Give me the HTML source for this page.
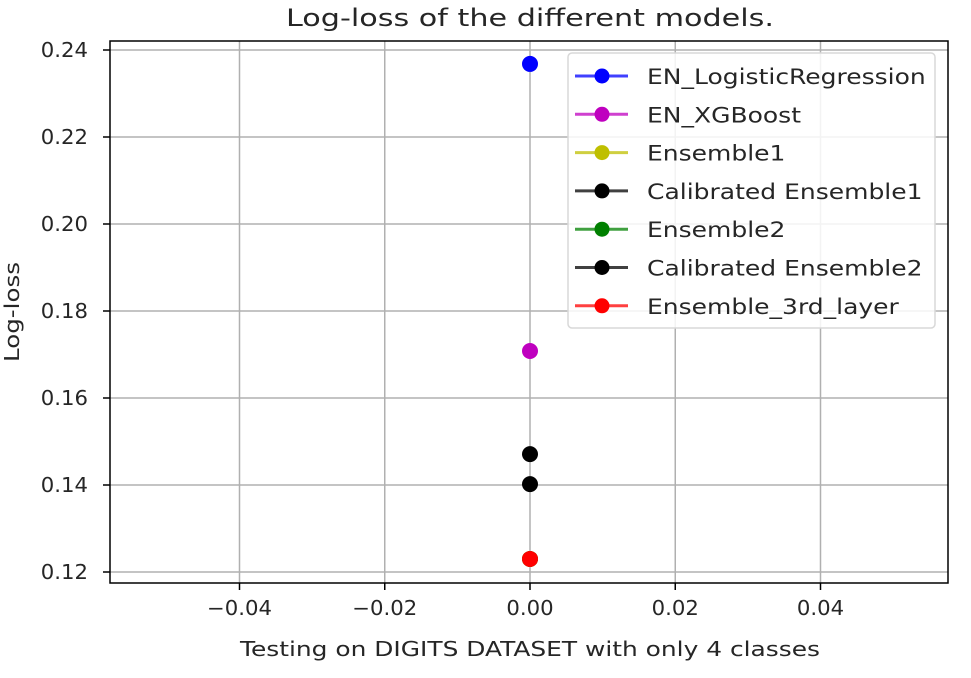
<!DOCTYPE html>
<html><head><meta charset="utf-8"><style>
body{margin:0;background:#fff;}
svg{display:block;font-family:"DejaVu Sans","Liberation Sans",sans-serif;}
</style></head><body>
<svg id="chart" width="971" height="678">
<g id="grid"></g><g id="axes"></g><g id="marks"></g><g id="legend"></g>
</svg>
<script>
const categories=["EN_LogisticRegression","EN_XGBoost","Ensemble1","Calibrated Ensemble1","Ensemble2","Calibrated Ensemble2","Ensemble_3rd_layer"];
const colors=["#0000ff","#bf00bf","#bfbf00","#000000","#008000","#000000","#ff0000"];
const xValues=[0,0,0,0,0,0,0];
const logLoss=[0.2368,0.1708,0.1230,0.1471,0.1230,0.1402,0.1230];
const yTicks=[0.12,0.14,0.16,0.18,0.20,0.22,0.24];
const xTicks=[-0.04,-0.02,0.00,0.02,0.04];
const xTickLabels=["\u22120.04","\u22120.02","0.00","0.02","0.04"];
const NS="http://www.w3.org/2000/svg";
const L=110,R=948,T=41,B=583;
function X(v){return 530+v/0.02*145.25;}
function Y(v){return 572-(v-0.12)/0.02*87;}
function mk(tag,attrs,parent,text){const e=document.createElementNS(NS,tag);for(const k in attrs)e.setAttribute(k,attrs[k]);if(text!==undefined)e.textContent=text;document.getElementById(parent).appendChild(e);return e;}
function stretch(e,f){const w=e.getComputedTextLength();e.setAttribute('textLength',w*f);e.setAttribute('lengthAdjust','spacingAndGlyphs');}
yTicks.forEach((t,i)=>{
 let g=mk('line',{x1:L,x2:R,y1:Y(t),y2:Y(t),stroke:'#b0b0b0','stroke-width':1.5},'grid');
 
 
 mk('line',{x1:L-7,x2:L,y1:Y(t),y2:Y(t),stroke:'#000','stroke-width':1.5},'axes');
 let tx=mk('text',{x:L-22,y:Y(t)+7,'text-anchor':'end','font-size':20,fill:'#262626'},'axes',t.toFixed(2));
 
 
 stretch(tx,1.06);
});
xTicks.forEach((t,i)=>{
 let g=mk('line',{x1:X(t),x2:X(t),y1:T,y2:B,stroke:'#b0b0b0','stroke-width':1.5},'grid');
 
 
 mk('line',{x1:X(t),x2:X(t),y1:B,y2:B+7,stroke:'#000','stroke-width':1.5},'axes');
 let tx=mk('text',{x:X(t),y:B+32,'text-anchor':'middle','font-size':20,fill:'#262626'},'axes',xTickLabels[i]);
 
 
 stretch(tx,1.06);
});
let fr=mk('rect',{x:L,y:T,width:R-L,height:B-T,fill:'none',stroke:'#000','stroke-width':1.5},'axes');


let ti=mk('text',{x:530,y:26,'text-anchor':'middle','font-size':24,fill:'#262626'},'axes','Log-loss of the different models.');


ti.setAttribute('textLength',488);ti.setAttribute('lengthAdjust','spacingAndGlyphs');
let xl=mk('text',{x:530,y:656,'text-anchor':'middle','font-size':20,fill:'#262626'},'axes','Testing on DIGITS DATASET with only 4 classes');


xl.setAttribute('textLength',580);xl.setAttribute('lengthAdjust','spacingAndGlyphs');
let yl=mk('text',{x:0,y:0,'text-anchor':'middle','font-size':20,fill:'#262626',transform:'translate(19,312) rotate(-90)'},'axes','Log-loss');


yl.setAttribute('textLength',100);yl.setAttribute('lengthAdjust','spacingAndGlyphs');
categories.forEach((c,i)=>{
 let p=mk('circle',{cx:X(xValues[i]),cy:Y(logLoss[i]),r:8,fill:colors[i]},'marks');
 
 
});
let lb=mk('rect',{x:568,y:53,width:367,height:275,rx:4,fill:'#fff','fill-opacity':0.85,stroke:'#d8d8d8','stroke-width':1.5},'legend');


categories.forEach((c,i)=>{
 const y=76+i*38.3;
 mk('line',{x1:575,x2:628,y1:y,y2:y,stroke:colors[i],'stroke-width':3,'stroke-opacity':0.75},'legend');
 mk('circle',{cx:602,cy:y,r:7.5,fill:colors[i]},'legend');
 let t=mk('text',{x:647,y:y+8,'font-size':21,fill:'#262626'},'legend',c);
 
 
 stretch(t,1.19);
});
</script>
</body></html>
